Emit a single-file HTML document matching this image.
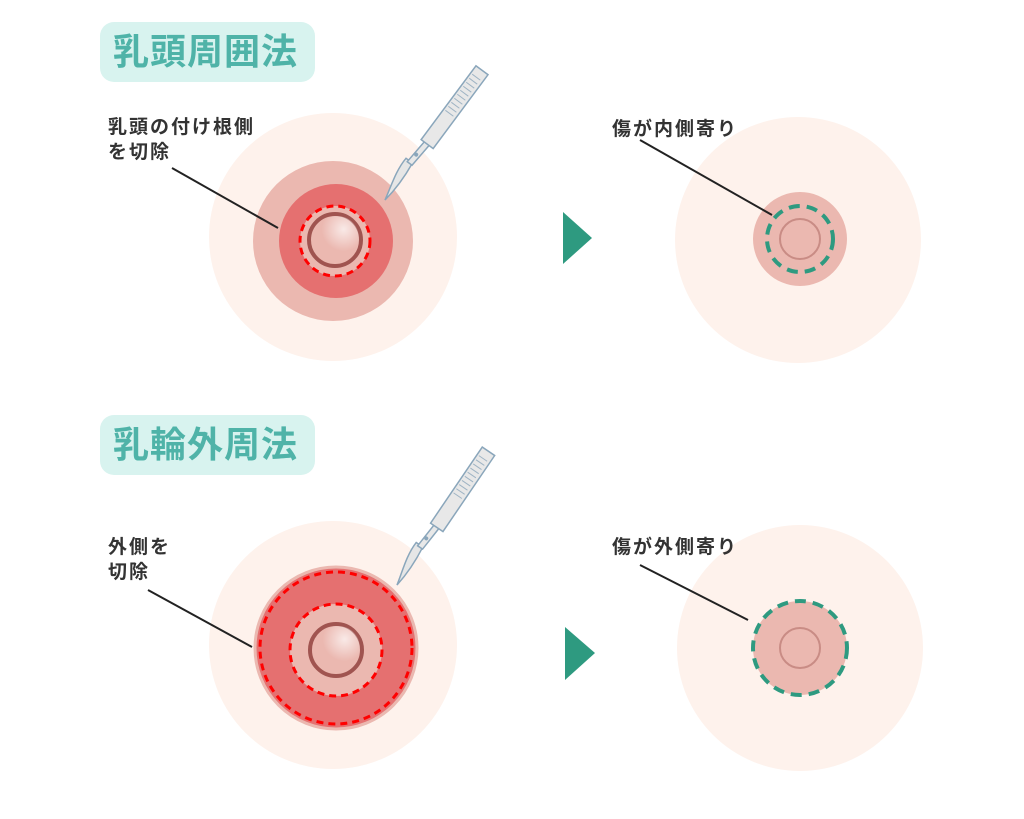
<!DOCTYPE html>
<html><head><meta charset="utf-8"><style>
body{margin:0;background:#fff;width:1024px;height:819px;overflow:hidden;position:relative;font-family:"Liberation Sans","Noto Sans CJK JP",sans-serif}
.t{position:absolute;background:#d8f3ef;border-radius:14px;color:#4fb3a8;font-weight:bold;font-size:36px;line-height:60px;padding:0 0 0 13px;letter-spacing:1px;width:202px}
.l{position:absolute;font-weight:bold;font-size:19px;color:#333;line-height:25px;letter-spacing:2px}
</style></head><body>
<svg width="1024" height="819" style="position:absolute;left:0;top:0">
<defs>
<g id="scal">
<path d="M0,0 C14,-3 30,-9 46,-8 L46,0 C30,2 14,2 0,0 Z" fill="#e6e6e6" stroke="#8aa6bb" stroke-width="1.5"/>
<path d="M44,-5 L72,-3 L72,3 L44,1 Z" fill="#e8e8e8" stroke="#8aa6bb" stroke-width="1.5"/>
<path d="M70,-7 L162,-7 L162,8 L70,8 Z" fill="#e8e8e8" stroke="#8aa6bb" stroke-width="1.5"/>
<g stroke="#9fb4c4" stroke-width="1">
<line x1="108" y1="-5" x2="108" y2="5"/><line x1="113" y1="-5" x2="113" y2="5"/><line x1="118" y1="-5" x2="118" y2="5"/><line x1="123" y1="-5" x2="123" y2="5"/><line x1="128" y1="-5" x2="128" y2="5"/><line x1="133" y1="-5" x2="133" y2="5"/><line x1="138" y1="-5" x2="138" y2="5"/><line x1="143" y1="-5" x2="143" y2="5"/><line x1="148" y1="-5" x2="148" y2="5"/><line x1="153" y1="-5" x2="153" y2="5"/>
</g>
<circle cx="55" cy="-2" r="2" fill="#8aa6bb"/>
</g>
<radialGradient id="hl" cx="0.65" cy="0.3" r="0.5"><stop offset="0" stop-color="#fff" stop-opacity="0.7"/><stop offset="1" stop-color="#fff" stop-opacity="0"/></radialGradient>
</defs>
<!-- top left -->
<circle cx="333" cy="237" r="124" fill="#fef2ec"/>
<circle cx="333" cy="241" r="80" fill="#ebb8b0"/>
<circle cx="336" cy="241" r="57" fill="#e57070"/>
<circle cx="335" cy="241" r="35" fill="#ebb8b0" stroke="#f00" stroke-width="3" stroke-dasharray="7,5"/>
<circle cx="335" cy="240" r="26" fill="#ebb8b0" stroke="#a05450" stroke-width="4"/>
<circle cx="337" cy="238" r="22" fill="url(#hl)"/>
<use href="#scal" transform="translate(385,200) rotate(-53.4)"/>
<line x1="172" y1="168" x2="278" y2="228" stroke="#222" stroke-width="2"/>
<!-- top right -->
<circle cx="798" cy="240" r="123" fill="#fef2ec"/>
<circle cx="800" cy="239" r="47" fill="#ebb8b0"/>
<circle cx="800" cy="239" r="33" fill="none" stroke="#2e9a80" stroke-width="4" stroke-dasharray="11,7"/>
<circle cx="800" cy="239" r="20" fill="#ebb8b0" stroke="#c98c85" stroke-width="2"/>
<line x1="640" y1="140" x2="772" y2="215" stroke="#222" stroke-width="2"/>
<polygon points="563,212 592,238 563,264" fill="#2e9a80"/>
<!-- bottom left -->
<circle cx="333" cy="645" r="124" fill="#fef2ec"/>
<circle cx="336" cy="648" r="81" fill="#e57070" stroke="#ebb8b0" stroke-width="3"/>
<circle cx="336" cy="648" r="76" fill="none" stroke="#f00" stroke-width="3" stroke-dasharray="7,5"/>
<circle cx="336" cy="650" r="46" fill="#ebb8b0" stroke="#f00" stroke-width="3" stroke-dasharray="7,5"/>
<circle cx="336" cy="650" r="26" fill="#ebb8b0" stroke="#a05450" stroke-width="4"/>
<circle cx="338" cy="648" r="22" fill="url(#hl)"/>
<use href="#scal" transform="translate(397,585) rotate(-55.8)"/>
<line x1="148" y1="590" x2="252" y2="647" stroke="#222" stroke-width="2"/>
<!-- bottom right -->
<circle cx="800" cy="648" r="123" fill="#fef2ec"/>
<circle cx="800" cy="648" r="47" fill="#ebb8b0" stroke="#2e9a80" stroke-width="4" stroke-dasharray="11,7"/>
<circle cx="800" cy="648" r="20" fill="#ebb8b0" stroke="#c98c85" stroke-width="2"/>
<line x1="640" y1="565" x2="748" y2="620" stroke="#222" stroke-width="2"/>
<polygon points="565,627 595,653 565,680" fill="#2e9a80"/>
</svg>
<div class="t" style="left:100px;top:22px">乳頭周囲法</div>
<div class="t" style="left:100px;top:415px">乳輪外周法</div>
<div class="l" style="left:108px;top:115px">乳頭の付け根側<br>を切除</div>
<div class="l" style="left:612px;top:117px">傷が内側寄り</div>
<div class="l" style="left:108px;top:535px">外側を<br>切除</div>
<div class="l" style="left:612px;top:535px">傷が外側寄り</div>
</body></html>
